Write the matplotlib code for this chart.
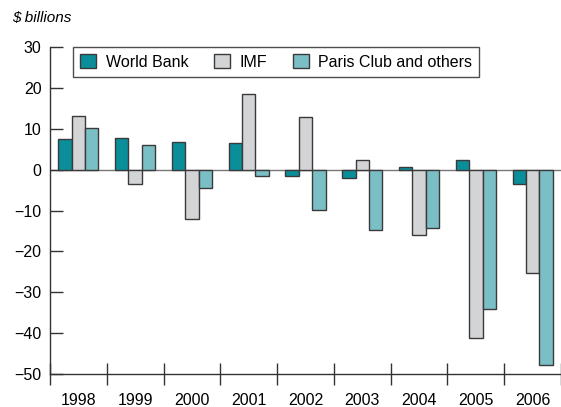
import matplotlib
matplotlib.use("Agg")
import matplotlib.pyplot as plt
import numpy as np

years = ["1998", "1999", "2000", "2001", "2002", "2003", "2004", "2005", "2006"]
world_bank = [7.6, 7.8, 6.8, 6.5, -1.5, -2.0, 0.7, 2.4, -3.5]
imf = [13.0, -3.5, -12.0, 18.4, 12.8, 2.4, -15.9, -41.3, -25.2]
paris_club = [10.3, 6.1, -4.5, -1.5, -9.8, -14.7, -14.4, -34.0, -47.7]
series_names = ["World Bank", "IMF", "Paris Club and others"]

plt.rcParams['font.family'] = ['Liberation Sans', 'DejaVu Sans']

fig = plt.figure(figsize=(5.61, 4.07), dpi=100)
ax = fig.add_axes([50/561, 1-374/407, 1-50/561, (374-47)/407])

colors = ["#0a8f9a", "#d3d4d6", "#7bbfc6"]
edge = "#3a3a3a"
x = np.arange(len(years))
w = 0.235
ax.axhline(0, color="#777777", lw=1.0, zorder=1)
for i, (vals, c, name) in enumerate(zip([world_bank, imf, paris_club], colors, series_names)):
    ax.bar(x + (i-1)*w, vals, width=w, color=c, edgecolor=edge, linewidth=1.0, label=name, zorder=2)

ax.set_xlim(-0.5, len(years)-0.5)
ax.set_ylim(-50, 30)
ax.set_yticks(range(-50, 31, 10))
ax.set_yticklabels([str(v).replace("-", "\u2212") for v in range(-50, 31, 10)])
ax.set_xticks(x)
ax.set_xticklabels(years)
ax.set_xticks(np.arange(-0.5, len(years)), minor=True)
ax.tick_params(axis='x', which='major', length=0, labelsize=11.5, pad=14)
ax.tick_params(axis='x', which='minor', direction='inout', length=16, width=1, color="#333333")
ax.tick_params(axis='y', direction='in', length=9, width=1, color="#333333", labelsize=11.5, pad=6)
for s in ["top", "right"]:
    ax.spines[s].set_visible(False)
for s in ["left", "bottom"]:
    ax.spines[s].set_color("#333333")
    ax.spines[s].set_linewidth(1.0)

leg = ax.legend(loc="upper left", bbox_to_anchor=(23/511, 1.0), ncol=3, frameon=True,
                fancybox=False, edgecolor="#222222", fontsize=11.5, handlelength=1.0,
                handleheight=1.0, columnspacing=1.6, handletextpad=0.6, borderpad=0.45,
                borderaxespad=0)
leg.get_frame().set_linewidth(1.0)

fig.text(12/561, 1-18/407, "$ billions", fontsize=11, style="italic", va="center", ha="left")

fig.savefig("out.png", dpi=100)
